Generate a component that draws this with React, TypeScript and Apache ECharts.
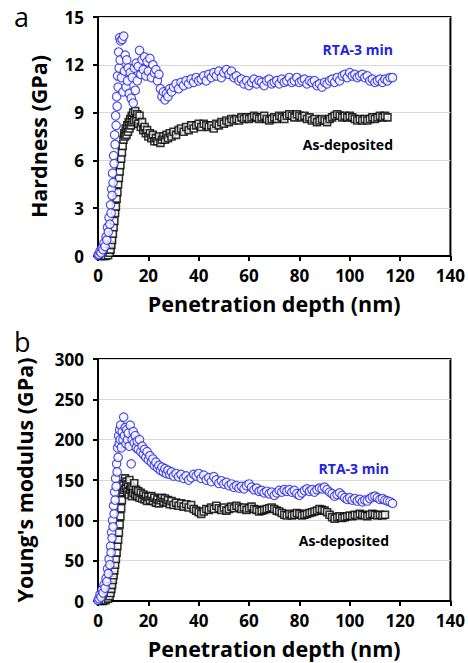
import React, { useEffect, useRef } from "react";
import * as echarts from "echarts";

// Panel a: Hardness (GPa) vs penetration depth (nm)
const hardnessRTA: number[][] = [
  [0, 0.05], [0.4, 0.1], [0.8, 0.3], [1.2, 0.2], [1.6, 0.5], [2.0, 0.4], [2.4, 0.8], [2.8, 0.6],
  [3.2, 1.2], [3.5, 1.0], [3.8, 1.8], [4.1, 1.5], [4.4, 2.4], [4.7, 2.0], [5.0, 3.2], [5.2, 2.7],
  [5.4, 4.2], [5.6, 3.8], [5.8, 5.2], [6.0, 4.6], [6.2, 6.3], [6.4, 5.8], [6.6, 7.6], [6.8, 7.0],
  [7.0, 8.8], [7.2, 8.2], [7.4, 10.0], [7.6, 9.4], [7.8, 11.3], [8.0, 10.6], [8.2, 12.8], [8.4, 11.8],
  [8.6, 13.7], [8.8, 12.3], [9.0, 13.5], [9.3, 11.2], [9.6, 13.6], [9.9, 10.3], [10.2, 13.8], [10.5, 11.6],
  [10.8, 12.6], [11.1, 10.6], [11.4, 12.3], [11.7, 11.0], [12.0, 11.8], [12.4, 10.2], [12.8, 11.5], [13.2, 9.9],
  [13.6, 11.2], [14.0, 9.6], [14.4, 11.8], [14.8, 10.4], [15.2, 12.1], [15.6, 11.0], [16.0, 11.9], [16.5, 12.9],
  [17.0, 11.4], [17.5, 12.3], [18.0, 11.7], [18.5, 12.5], [19.0, 11.3], [19.5, 12.2], [20.0, 11.6], [20.6, 12.4],
  [21.2, 11.2], [21.8, 12.0], [22.4, 11.5], [23.0, 11.7], [23.6, 11.0], [24.2, 11.4], [24.8, 10.5], [25.4, 10.0],
  [26.0, 10.3], [26.6, 9.8], [27.2, 10.2], [27.8, 10.0], [28.5, 10.5], [29.2, 10.3], [30.0, 10.6],
  [31, 10.8], [32, 10.5], [33, 10.9], [34, 10.7], [35, 11.0], [36, 10.8], [37, 11.1], [38, 10.9], [39, 11.2], [40, 11.0],
  [41, 11.1], [42, 11.3], [43, 11.0], [44, 11.4], [45, 11.2], [46, 11.5], [47, 11.3], [48, 11.6], [49, 11.2], [50, 11.5],
  [51, 11.7], [52, 11.4], [53, 11.6], [54, 11.2], [55, 11.3], [56, 11.0], [57, 11.1], [58, 10.8], [59, 11.0], [60, 10.7],
  [61, 10.9], [62, 11.1], [63, 10.8], [64, 11.0], [65, 10.9], [66, 10.7], [67, 11.0], [68, 11.1], [69, 10.8], [70, 10.9],
  [71, 11.0], [72, 10.8], [73, 11.1], [74, 10.9], [75, 11.0], [76, 11.2], [77, 10.9], [78, 11.0], [79, 11.2], [80, 10.9],
  [81, 11.0], [82, 11.1], [83, 10.8], [84, 11.0], [85, 10.9], [86, 11.0], [87, 10.7], [88, 10.8], [89, 10.6], [90, 10.9],
  [91, 10.8], [92, 11.0], [93, 11.1], [94, 10.9], [95, 11.2], [96, 11.0], [97, 11.3], [98, 11.4], [99, 11.2], [100, 11.5],
  [101, 11.3], [102, 11.4], [103, 11.2], [104, 11.3], [105, 11.4], [106, 11.2], [107, 11.3], [108, 11.0], [109, 11.1], [110, 10.9],
  [111, 11.0], [112, 11.1], [113, 10.9], [114, 11.1], [115, 11.0], [116, 11.2], [117, 11.2],
];

const hardnessAsDep: number[][] = [
  [1.0, 0], [2.0, 0], [3.0, 0], [4.0, 0.05], [4.6, 0.2], [5.0, 0.4], [5.3, 0.7], [5.6, 1.0],
  [5.9, 1.4], [6.2, 1.8], [6.5, 2.2], [6.8, 2.7], [7.1, 3.1], [7.4, 3.6], [7.7, 4.0], [8.0, 4.5],
  [8.3, 4.9], [8.6, 5.3], [8.9, 5.7], [9.2, 6.1], [9.5, 6.5], [9.8, 6.9], [10.1, 7.3], [10.4, 7.7],
  [10.7, 7.5], [11.0, 8.0], [11.3, 7.6], [11.6, 8.2], [11.9, 7.8], [12.2, 8.4], [12.5, 8.0], [12.8, 8.6],
  [13.1, 8.2], [13.4, 8.8], [13.7, 8.4], [14.0, 9.0], [14.4, 8.5], [14.8, 9.1], [15.2, 8.6], [15.6, 8.9],
  [16.0, 8.3], [16.5, 8.8], [17.0, 8.1], [17.5, 8.4], [18.0, 7.9], [18.5, 8.1], [19.0, 7.7], [19.5, 7.9],
  [20.0, 7.5], [20.6, 7.7], [21.2, 7.4], [21.8, 7.6], [22.4, 7.2], [23.0, 7.4], [23.6, 7.2], [24.2, 7.5],
  [24.8, 7.1], [25.4, 7.3], [26.0, 7.5], [26.6, 7.3], [27.2, 7.6], [27.8, 7.4], [28.5, 7.7], [29.2, 7.5], [30.0, 7.8],
  [31, 7.6], [32, 7.9], [33, 8.0], [34, 7.8], [35, 8.1], [36, 7.9], [37, 8.2], [38, 8.0], [39, 8.2], [40, 8.3],
  [41, 8.1], [42, 8.3], [43, 8.2], [44, 8.1], [45, 8.2], [46, 8.0], [47, 8.3], [48, 8.2], [49, 8.4], [50, 8.3],
  [51, 8.5], [52, 8.4], [53, 8.6], [54, 8.5], [55, 8.6], [56, 8.5], [57, 8.7], [58, 8.6], [59, 8.7], [60, 8.6],
  [61, 8.7], [62, 8.8], [63, 8.7], [64, 8.6], [65, 8.7], [66, 8.8], [67, 8.6], [68, 8.5], [69, 8.6], [70, 8.7],
  [71, 8.6], [72, 8.8], [73, 8.7], [74, 8.6], [75, 8.8], [76, 8.9], [77, 8.8], [78, 8.7], [79, 8.9], [80, 8.8],
  [81, 8.7], [82, 8.8], [83, 8.6], [84, 8.7], [85, 8.5], [86, 8.6], [87, 8.4], [88, 8.5], [89, 8.6], [90, 8.5],
  [91, 8.4], [92, 8.6], [93, 8.7], [94, 8.8], [95, 8.9], [96, 8.8], [97, 8.7], [98, 8.8], [99, 8.7], [100, 8.8],
  [101, 8.7], [102, 8.6], [103, 8.5], [104, 8.6], [105, 8.5], [106, 8.6], [107, 8.5], [108, 8.6], [109, 8.7], [110, 8.6],
  [111, 8.7], [112, 8.8], [113, 8.7], [114, 8.8], [115, 8.7],
];

// Panel b: Young's modulus (GPa) vs penetration depth (nm)
const modulusRTA: number[][] = [
  [0, 1], [0.4, 3], [0.8, 8], [1.2, 5], [1.6, 14], [2.0, 10], [2.4, 20], [2.8, 16],
  [3.2, 28], [3.5, 24], [3.8, 40], [4.1, 34], [4.4, 52], [4.7, 45], [5.0, 68], [5.2, 60],
  [5.4, 85], [5.6, 78], [5.8, 100], [6.0, 92], [6.2, 118], [6.4, 108], [6.6, 135], [6.8, 125],
  [7.0, 152], [7.2, 142], [7.4, 170], [7.6, 160], [7.8, 190], [8.0, 178], [8.2, 205], [8.4, 195],
  [8.6, 212], [8.8, 200], [9.0, 218], [9.3, 190], [9.6, 210], [9.9, 200], [10.2, 228], [10.5, 205],
  [10.8, 215], [11.1, 195], [11.4, 212], [11.7, 200], [12.0, 208], [12.4, 192], [12.8, 218], [13.2, 170],
  [13.6, 200], [14.0, 210], [14.4, 196], [14.8, 205], [15.2, 190], [15.6, 198], [16.0, 188], [16.5, 200],
  [17.0, 185], [17.5, 192], [18.0, 182], [18.5, 188], [19.0, 178], [19.5, 185], [20.0, 175], [20.6, 180],
  [21.2, 172], [21.8, 176], [22.4, 168], [23.0, 172], [23.6, 165], [24.2, 168], [24.8, 162], [25.4, 166],
  [26.0, 160], [26.6, 164], [27.2, 158], [27.8, 162], [28.5, 157], [29.2, 160], [30.0, 155],
  [31, 158], [32, 154], [33, 157], [34, 152], [35, 155], [36, 150], [37, 153], [38, 157], [39, 155], [40, 158],
  [41, 152], [42, 156], [43, 150], [44, 153], [45, 148], [46, 154], [47, 150], [48, 146], [49, 149], [50, 145],
  [51, 147], [52, 143], [53, 145], [54, 141], [55, 143], [56, 140], [57, 142], [58, 139], [59, 143], [60, 145],
  [61, 141], [62, 138], [63, 140], [64, 136], [65, 137], [66, 134], [67, 136], [68, 133], [69, 135], [70, 131],
  [71, 134], [72, 137], [73, 135], [74, 138], [75, 136], [76, 138], [77, 135], [78, 137], [79, 133], [80, 131],
  [81, 134], [82, 137], [83, 139], [84, 136], [85, 138], [86, 135], [87, 138], [88, 140], [89, 139], [90, 141],
  [91, 138], [92, 135], [93, 133], [94, 130], [95, 132], [96, 134], [97, 131], [98, 128], [99, 126], [100, 128],
  [101, 125], [102, 127], [103, 124], [104, 126], [105, 123], [106, 125], [107, 124], [108, 127], [109, 129], [110, 130],
  [111, 128], [112, 126], [113, 127], [114, 125], [115, 124], [116, 123], [117, 121],
];

const modulusAsDep: number[][] = [
  [1.0, 0], [2.0, 0], [3.0, 1], [4.0, 3], [4.6, 6], [5.0, 10], [5.3, 15], [5.6, 20],
  [5.9, 26], [6.2, 32], [6.5, 38], [6.8, 45], [7.1, 52], [7.4, 60], [7.7, 68], [8.0, 76],
  [8.3, 85], [8.6, 95], [8.9, 105], [9.2, 115], [9.5, 125], [9.8, 135], [10.1, 145], [10.4, 138],
  [10.7, 152], [11.0, 140], [11.3, 148], [11.6, 135], [11.9, 145], [12.2, 132], [12.5, 150], [12.8, 138],
  [13.1, 142], [13.4, 130], [13.7, 140], [14.0, 134], [14.4, 146], [14.8, 132], [15.2, 138], [15.6, 130],
  [16.0, 136], [16.5, 128], [17.0, 134], [17.5, 127], [18.0, 132], [18.5, 126], [19.0, 130], [19.5, 124],
  [20.0, 129], [20.6, 125], [21.2, 130], [21.8, 124], [22.4, 128], [23.0, 122], [23.6, 126], [24.2, 121],
  [24.8, 125], [25.4, 128], [26.0, 123], [26.6, 127], [27.2, 122], [27.8, 125], [28.5, 120], [29.2, 124], [30.0, 119],
  [31, 122], [32, 118], [33, 121], [34, 117], [35, 120], [36, 116], [37, 119], [38, 114], [39, 112], [40, 110],
  [41, 108], [42, 111], [43, 114], [44, 113], [45, 116], [46, 114], [47, 118], [48, 115], [49, 113], [50, 116],
  [51, 112], [52, 114], [53, 117], [54, 115], [55, 118], [56, 116], [57, 114], [58, 116], [59, 113], [60, 115],
  [61, 117], [62, 114], [63, 113], [64, 111], [65, 112], [66, 113], [67, 114], [68, 115], [69, 116], [70, 114],
  [71, 112], [72, 111], [73, 109], [74, 107], [75, 106], [76, 108], [77, 106], [78, 107], [79, 109], [80, 108],
  [81, 106], [82, 107], [83, 108], [84, 109], [85, 110], [86, 111], [87, 112], [88, 114], [89, 113], [90, 112],
  [91, 110], [92, 107], [93, 104], [94, 102], [95, 104], [96, 105], [97, 103], [98, 104], [99, 105], [100, 106],
  [101, 105], [102, 107], [103, 106], [104, 108], [105, 107], [106, 106], [107, 105], [108, 107], [109, 108], [110, 107],
  [111, 106], [112, 107], [113, 106], [114, 107],
];

const seriesNames = ["RTA-3 min", "As-deposited"];
const panelLetters = ["a", "b"];
const xAxisTitle = "Penetration depth (nm)";
const yAxisTitles = ["Hardness (GPa)", "Young's modulus (GPa)"];

const FONT = "'Open Sans', 'Noto Sans', sans-serif";
const BLUE = "#2222e6";

export default function App() {
  const ref = useRef<HTMLDivElement>(null);

  useEffect(() => {
    if (!ref.current) return;
    const chart = echarts.init(ref.current, undefined, { renderer: "svg" });

    const tickLabel = { color: "#000", fontFamily: FONT, fontWeight: "bold" as const, fontSize: 17 };
    const axisTitle = { color: "#000", fontFamily: FONT, fontWeight: "bold" as const, fontSize: 21.5 };

    const xAxisCommon = (gridIndex: number) => ({
      gridIndex,
      type: "value" as const,
      min: 0,
      max: 140,
      interval: 20,
      axisLine: { show: true, onZero: false, lineStyle: { color: "#000", width: 2 } },
      axisTick: { show: true, length: 5, lineStyle: { color: "#000", width: 2 } },
      axisLabel: { ...tickLabel, margin: 11 },
      splitLine: { show: false },
      name: xAxisTitle,
      nameLocation: "middle" as const,
      nameGap: 36,
      nameTextStyle: axisTitle,
    });

    const yAxisCommon = (gridIndex: number, max: number, interval: number, name: string, gap: number) => ({
      gridIndex,
      type: "value" as const,
      min: 0,
      max,
      interval,
      axisLine: { show: true, onZero: false, lineStyle: { color: "#000", width: 2 } },
      axisTick: { show: true, length: 5, lineStyle: { color: "#000", width: 2 } },
      axisLabel: { ...tickLabel, margin: 14 },
      splitLine: { show: true, lineStyle: { color: "#d9d9d9", width: 1 } },
      name,
      nameLocation: "middle" as const,
      nameGap: gap,
      nameTextStyle: axisTitle,
    });

    const circleStyle = { color: "#ffffff", borderColor: BLUE, borderWidth: 1.2 };
    const squareStyle = { color: "#ffffff", borderColor: "#000", borderWidth: 1.6 };

    chart.setOption({
      animation: false,
      backgroundColor: "#ffffff",
      grid: [
        { left: 98, top: 17, width: 357, height: 239, show: true, borderColor: "#000", borderWidth: 2 },
        { left: 98, top: 359, width: 357, height: 242, show: true, borderColor: "#000", borderWidth: 2 },
      ],
      xAxis: [xAxisCommon(0), xAxisCommon(1)],
      yAxis: [
        yAxisCommon(0, 15, 3, yAxisTitles[0], 49),
        yAxisCommon(1, 300, 50, yAxisTitles[1], 63),
      ],
      series: [
        {
          name: seriesNames[1], type: "scatter", xAxisIndex: 0, yAxisIndex: 0, data: hardnessAsDep,
          symbol: "rect", symbolSize: 7, itemStyle: squareStyle, clip: false, silent: true,
        },
        {
          name: seriesNames[0], type: "scatter", xAxisIndex: 0, yAxisIndex: 0, data: hardnessRTA,
          symbol: "circle", symbolSize: 8.5, itemStyle: circleStyle, clip: false, silent: true,
        },
        {
          name: seriesNames[1], type: "scatter", xAxisIndex: 1, yAxisIndex: 1, data: modulusAsDep,
          symbol: "rect", symbolSize: 7, itemStyle: squareStyle, clip: false, silent: true,
        },
        {
          name: seriesNames[0], type: "scatter", xAxisIndex: 1, yAxisIndex: 1, data: modulusRTA,
          symbol: "circle", symbolSize: 8.5, itemStyle: circleStyle, clip: false, silent: true,
        },
      ],
      graphic: [
        { type: "text", x: 14, y: 16, style: { text: panelLetters[0], font: `27px ${FONT}`, fill: "#000", verticalAlign: "middle" } },
        { type: "text", x: 14, y: 341, style: { text: panelLetters[1], font: `27px ${FONT}`, fill: "#000", verticalAlign: "middle" } },
        { type: "text", x: 393, y: 49, style: { text: seriesNames[0], font: `bold 14px ${FONT}`, fill: BLUE, align: "right", verticalAlign: "middle" } },
        { type: "text", x: 393, y: 144, style: { text: seriesNames[1], font: `bold 14px ${FONT}`, fill: "#000", align: "right", verticalAlign: "middle" } },
        { type: "text", x: 389, y: 468, style: { text: seriesNames[0], font: `bold 14px ${FONT}`, fill: BLUE, align: "right", verticalAlign: "middle" } },
        { type: "text", x: 389, y: 540, style: { text: seriesNames[1], font: `bold 14px ${FONT}`, fill: "#000", align: "right", verticalAlign: "middle" } },
      ],
    });

    return () => chart.dispose();
  }, []);

  return (
    <div
      ref={ref}
      style={{ position: "absolute", left: 0, top: 0, width: 468, height: 663, background: "#fff" }}
    />
  );
}
